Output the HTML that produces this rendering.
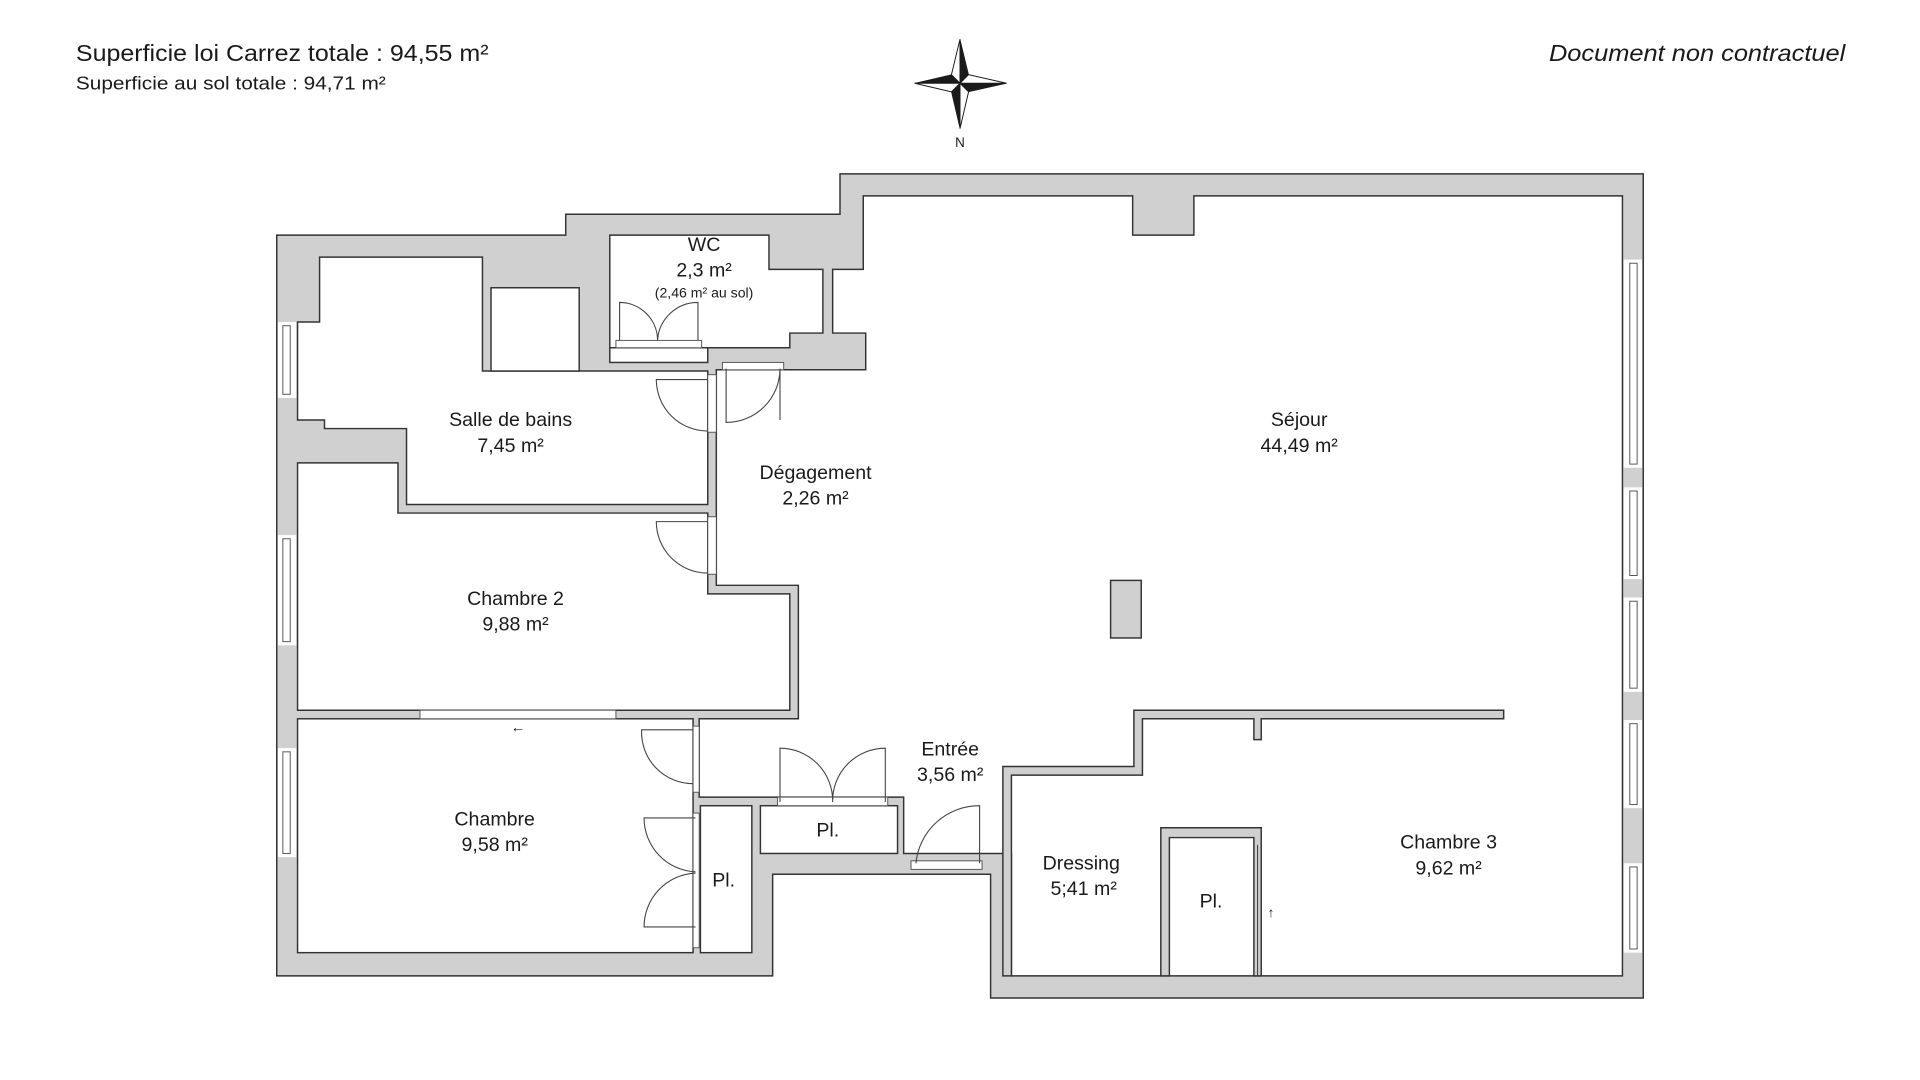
<!DOCTYPE html>
<html><head><meta charset="utf-8"><style>
html,body{margin:0;padding:0;background:#fff;width:1920px;height:1080px;overflow:hidden}
svg{display:block}
text{font-family:"Liberation Sans",sans-serif;fill:#1a1a1a}
</style></head><body>
<svg width="1920" height="1080" viewBox="0 0 1568 882" xmlns="http://www.w3.org/2000/svg">
<rect width="1568" height="882" fill="#fff"/>
<g stroke="#333" stroke-width="1.2" stroke-linejoin="miter">
<polygon fill="#d0d0d0" points="226,192 462,192 462,175 686,175 686,142 1342,142 1342,815 809,815 809,714 631,714 631,797 226,797"/>
<polygon fill="#fff" points="261,210 394,210 394,303 578,303 578,412 332,412 332,350 265,350 265,343 243,343 243,263 261,263"/>
<rect x="401" y="235" width="72" height="68" fill="#fff"/>
<polygon fill="#fff" points="498,192 628,192 628,220 672,220 672,272 645,272 645,284 498,284"/>
<rect x="498" y="284" width="80" height="12" fill="#fff"/>
<polygon fill="#fff" points="705,160 925,160 925,192 975,192 975,160 1325,160 1325,797 826,797 826,697 738,697 738,651 571,651 571,587 652,587 652,478 585,478 585,302 707,302 707,272 680,272 680,220 705,220"/>
<polygon fill="#fff" points="243,378 325,378 325,419 578,419 578,485 645,485 645,580 243,580"/>
<rect x="243" y="587" width="323" height="191" fill="#fff"/>
<rect x="572" y="658" width="42" height="120" fill="#fff"/>
<rect x="621" y="658" width="112" height="39" fill="#fff"/>
<polygon fill="#d0d0d0" points="819,797 819,626 926,626 926,580 1228,580 1228,587 1030,587 1030,604 1024,604 1024,587 933,587 933,633 826,633 826,797"/>
<polygon fill="#d0d0d0" points="948,797 948,676 1030,676 1030,797 1024,797 1024,684 955,684 955,797"/>
<rect x="907" y="474" width="25" height="47" fill="#d0d0d0"/>
</g>
<g fill="#fff" stroke="#555" stroke-width="0.8">
<rect x="578" y="306" width="7" height="47"/>
<rect x="578" y="422" width="7" height="47"/>
<rect x="590" y="296" width="50" height="6"/>
<rect x="503" y="278" width="70" height="6"/>
<rect x="566" y="593" width="5" height="54"/>
<rect x="566" y="664" width="5" height="110"/>
<rect x="635" y="651" width="90" height="7"/>
<rect x="744" y="703" width="58" height="7"/>
<rect x="343" y="580" width="160" height="7"/>
</g>
<g fill="#fff" stroke="#555" stroke-width="0.8">
<rect x="227" y="263" width="15" height="62" stroke="none"/>
<rect x="227" y="437" width="15" height="90" stroke="none"/>
<rect x="227" y="611" width="15" height="89" stroke="none"/>
<rect x="231" y="266" width="6" height="56"/>
<rect x="231" y="440" width="6" height="84"/>
<rect x="231" y="614" width="6" height="83"/>
<rect x="1326" y="212" width="15" height="170" stroke="none"/>
<rect x="1326" y="398" width="15" height="75" stroke="none"/>
<rect x="1326" y="488" width="15" height="77" stroke="none"/>
<rect x="1326" y="588" width="15" height="72" stroke="none"/>
<rect x="1326" y="705" width="15" height="73" stroke="none"/>
<rect x="1331" y="215" width="6" height="164"/>
<rect x="1331" y="401" width="6" height="69"/>
<rect x="1331" y="491" width="6" height="71"/>
<rect x="1331" y="591" width="6" height="66"/>
<rect x="1331" y="708" width="6" height="67"/>
</g>
<g fill="none" stroke="#444" stroke-width="0.9">
<path d="M578,310 L536,310 A42,42 0 0 0 578,352"/>
<path d="M578,426 L536,426 A42,42 0 0 0 578,468"/>
<path d="M593,301 L593,345 A44,44 0 0 0 637,301 M637,301 L637,343"/>
<path d="M506,278 L506,247 A31,31 0 0 1 537,278 M570,278 L570,247 A33,33 0 0 0 537,278"/>
<path d="M566,596 L524,596 A42,42 0 0 0 566,640"/>
<path d="M568,668 L526,668 A44,44 0 0 0 568,712"/>
<path d="M568,757 L526,757 A44,44 0 0 1 568,713"/>
<path d="M637,655 L637,611 A43,43 0 0 1 680,655 M723,655 L723,611 A43,43 0 0 0 680,655"/>
<path d="M800,705 L800,658 A52,52 0 0 0 748,705"/>
<path d="M1027,690 L1027,797"/>
</g>
<g fill="#1a1a1a" stroke="#1a1a1a" stroke-width="0.5">
<polygon points="784,32 791,61 784,68"/>
<polygon points="784,68 822,68 791,75"/>
<polygon points="784,68 784,105 777,75"/>
<polygon points="747,68 777,61 784,68"/>
</g>
<g fill="#fff" stroke="#1a1a1a" stroke-width="0.8">
<polygon points="784,32 777,61 784,68"/>
<polygon points="784,68 822,68 791,61"/>
<polygon points="784,68 784,105 791,75"/>
<polygon points="747,68 777,75 784,68"/>
</g>
<text x="784" y="120" font-size="11" text-anchor="middle">N</text>
<text x="62" y="50" font-size="19" textLength="337" lengthAdjust="spacingAndGlyphs">Superficie loi Carrez totale :  94,55 m²</text>
<text x="62" y="73" font-size="15" textLength="253" lengthAdjust="spacingAndGlyphs">Superficie au sol totale :  94,71 m²</text>
<text x="1507" y="50" font-size="19" font-style="italic" text-anchor="end" textLength="242" lengthAdjust="spacingAndGlyphs">Document non contractuel</text>
<g font-size="16" text-anchor="middle">
<text x="575" y="205">WC</text>
<text x="575" y="226">2,3 m²</text>
<text x="575" y="243" font-size="11.5">(2,46 m² au sol)</text>
<text x="417" y="348">Salle de bains</text>
<text x="417" y="369">7,45 m²</text>
<text x="1061" y="348">Séjour</text>
<text x="1061" y="369">44,49 m²</text>
<text x="666" y="391">Dégagement</text>
<text x="666" y="412">2,26 m²</text>
<text x="421" y="494">Chambre 2</text>
<text x="421" y="515">9,88 m²</text>
<text x="776" y="617">Entrée</text>
<text x="776" y="638">3,56 m²</text>
<text x="404" y="674">Chambre</text>
<text x="404" y="695">9,58 m²</text>
<text x="676" y="683">Pl.</text>
<text x="591" y="724">Pl.</text>
<text x="883" y="710">Dressing</text>
<text x="885" y="731">5;41 m²</text>
<text x="989" y="741">Pl.</text>
<text x="1183" y="693">Chambre 3</text>
<text x="1183" y="714">9,62 m²</text>
<text x="423" y="598" font-size="12">←</text>
<text x="1038" y="749" font-size="11">↑</text>
</g>
</svg>
</body></html>
